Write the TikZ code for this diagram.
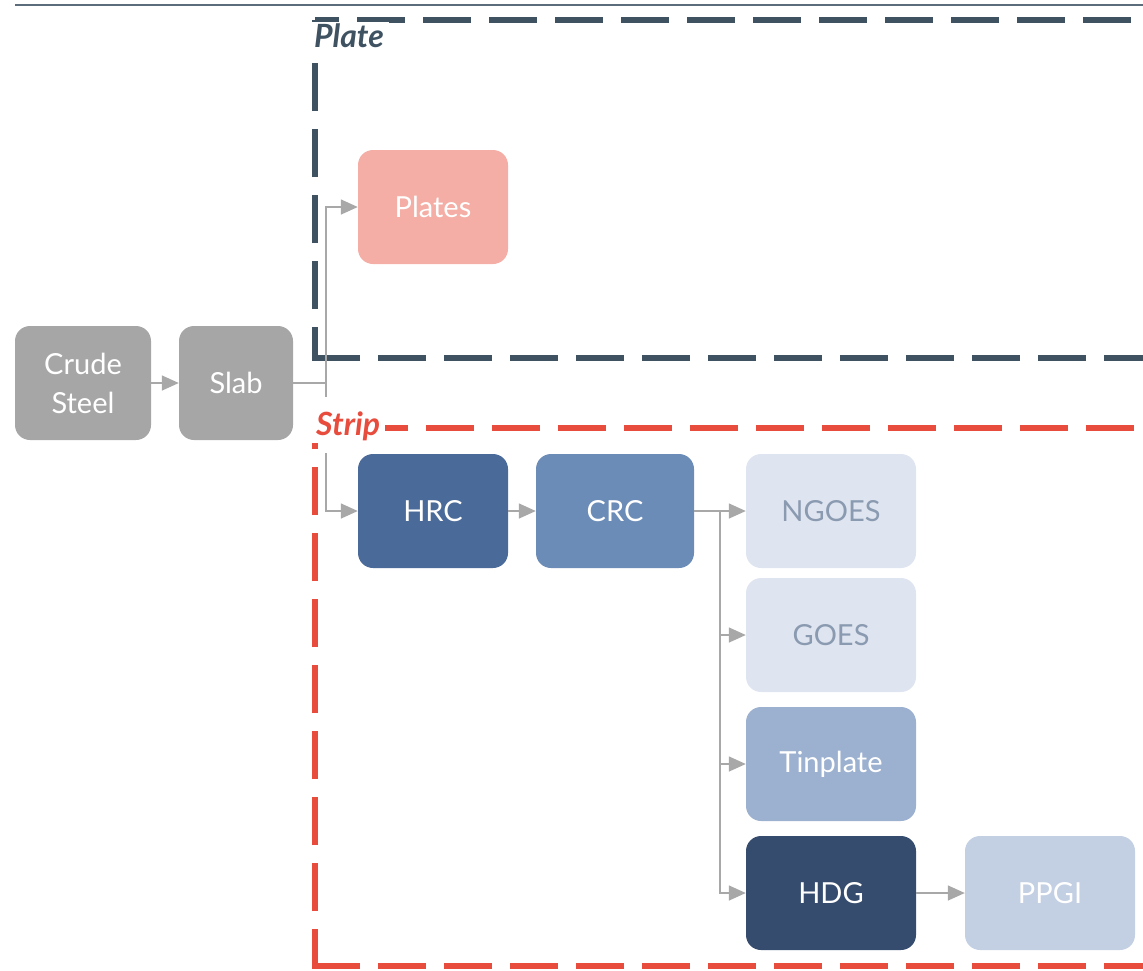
\documentclass[tikz,border=0pt]{standalone}
\usepackage{fontspec}
\setmainfont{Lato}
\usepackage{xcolor}
\usetikzlibrary{arrows.meta}
\definecolor{slate}{HTML}{3F5262}
\definecolor{stripred}{HTML}{E84C3D}
\definecolor{greybox}{HTML}{A6A6A6}
\definecolor{arrowgrey}{HTML}{A8A8A8}
\definecolor{platepink}{HTML}{F4AEA5}
\definecolor{hrcblue}{HTML}{4A6A9A}
\definecolor{crcblue}{HTML}{6C8CB8}
\definecolor{palebox}{HTML}{DFE5F0}
\definecolor{paletext}{HTML}{8A9AB0}
\definecolor{tinblue}{HTML}{9CB0CF}
\definecolor{hdgblue}{HTML}{364C6E}
\definecolor{ppgiblue}{HTML}{C3CFE2}

\tikzset{
  prod/.style={rounded corners=15pt, text=white, align=center,
    font=\fontsize{29}{39}\selectfont, inner sep=0pt},
  flow/.style={draw=arrowgrey, line width=1.5pt, -{Triangle[length=17pt,width=15pt]}},
  link/.style={draw=arrowgrey, line width=1.5pt},
  group/.style={line width=6pt, dash pattern=on 48pt off 18pt},
  grouplabel/.style={fill=white, font=\fontsize{32}{36}\selectfont\bfseries\itshape, inner ysep=2pt, inner xsep=5pt, anchor=west}
}

\begin{document}
\begin{tikzpicture}[x=1pt,y=-1pt]
    \useasboundingbox (0,0) rectangle (1143,970);

    % Top rule
    \draw [color=slate!85, line width=1.5pt] (15,5) -- (1143,5);

    % Groups
    \draw [group, slate, dash phase=17pt] (315,358) -- (315,20);
    \draw [group, slate] (312,358) -- (1160,358);
    \draw [group, slate, dash phase=24pt] (315,20) -- (1160,20);
    \draw [group, stripred, dash phase=11pt] (315,966) -- (315,428);
    \draw [group, stripred] (312,966) -- (1160,966);
    \draw [group, stripred, dash phase=21pt] (315,428) -- (1160,428);
    \node [grouplabel, text=slate] (platelbl) at (309,36) {Plate};
    \node [grouplabel, text=stripred] (striplbl) at (311,426) {Strip};

    % Boxes
    \node [prod, fill=greybox, minimum width=136pt, minimum height=114pt] (crude) at (83,383) {Crude\\Steel};
    \node [prod, fill=greybox, minimum width=114pt, minimum height=114pt] (slab) at (236,383) {Slab};
    \node [prod, fill=platepink, minimum width=150pt, minimum height=114pt] (plates) at (433,207) {Plates};
    \node [prod, fill=hrcblue, minimum width=150pt, minimum height=114pt] (hrc) at (433,511) {HRC};
    \node [prod, fill=crcblue, minimum width=158pt, minimum height=114pt] (crc) at (615,511) {CRC};
    \node [prod, fill=palebox, text=paletext, minimum width=170pt, minimum height=114pt] (ngoes) at (831,511) {NGOES};
    \node [prod, fill=palebox, text=paletext, minimum width=170pt, minimum height=114pt] (goes) at (831,635) {GOES};
    \node [prod, fill=tinblue, minimum width=170pt, minimum height=114pt] (tin) at (831,764) {Tinplate};
    \node [prod, fill=hdgblue, minimum width=170pt, minimum height=114pt] (hdg) at (831,893) {HDG};
    \node [prod, fill=ppgiblue, minimum width=170pt, minimum height=114pt] (ppgi) at (1050,893) {PPGI};

    % Links
    \coordinate (split) at (326,383);
    \coordinate (splitlow) at (326,397);
    \coordinate (splitstrip) at (326,453);
    \coordinate (fork) at (720,511);
    \draw [flow] (crude) -- (slab);
    \draw [link] (slab.east) -- (split);
    \draw [flow] (splitlow) |- (plates.west);
    \draw [flow] (splitstrip) |- (hrc.west);
    \draw [flow] (hrc) -- (crc);
    \draw [flow] (crc.east) -- (ngoes.west);
    \draw [flow] (fork) |- (goes.west);
    \draw [flow] (fork) |- (tin.west);
    \draw [flow] (fork) |- (hdg.west);
    \draw [flow] (hdg) -- (ppgi);
\end{tikzpicture}
\end{document}
